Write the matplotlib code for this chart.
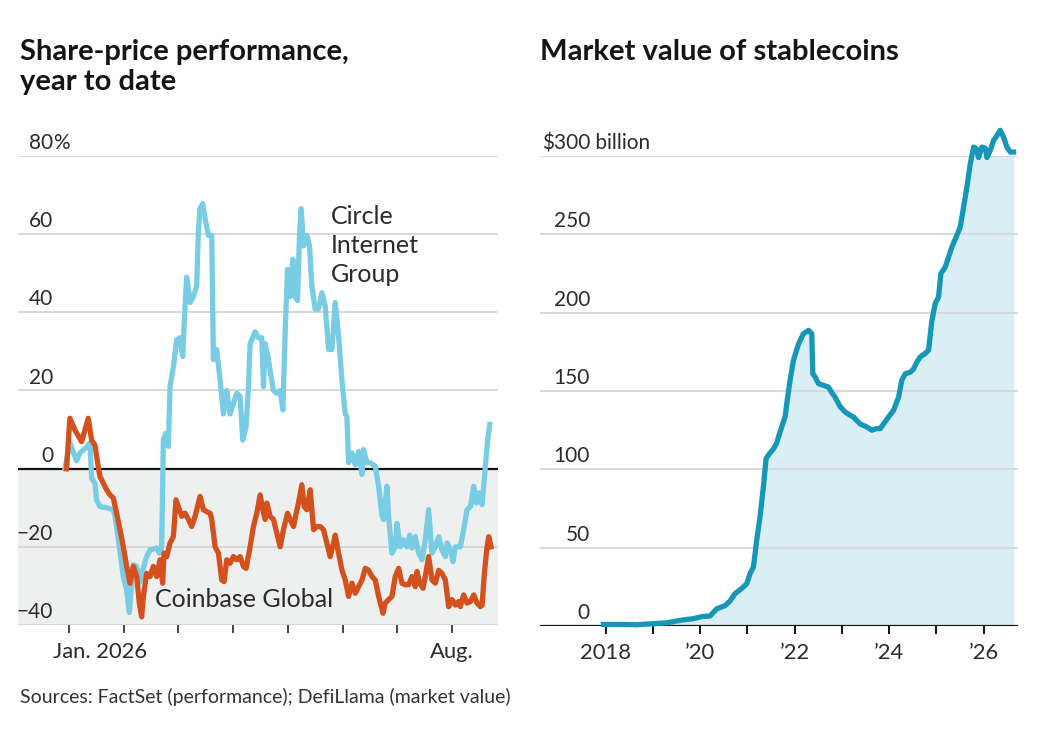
import matplotlib
matplotlib.use("Agg")
import matplotlib.pyplot as plt
import matplotlib.transforms as mtransforms

plt.rcParams["font.family"] = ["Lato", "DejaVu Sans"]

# ---- data ----
# left panel: months since Jan. 1, 2026 ; % change year to date
circle_t = [-0.073, 0.018, 0.140, 0.201, 0.335, 0.384, 0.415, 0.476, 0.506, 0.567,
            0.689, 0.811, 0.841, 0.902, 0.994, 1.055, 1.104, 1.146, 1.177, 1.238,
            1.299, 1.360, 1.421, 1.482, 1.604, 1.652, 1.695, 1.726, 1.768, 1.817,
            1.848, 1.909, 1.970, 2.030, 2.079, 2.122, 2.152, 2.213, 2.274, 2.335,
            2.366, 2.396, 2.445, 2.488, 2.549, 2.610, 2.640, 2.701, 2.762, 2.823,
            2.884, 2.945, 3.006, 3.067, 3.128, 3.177, 3.238, 3.280, 3.311, 3.402,
            3.463, 3.524, 3.555, 3.585, 3.646, 3.677, 3.738, 3.799, 3.860, 3.909,
            3.951, 3.994, 4.043, 4.091, 4.134, 4.177, 4.213, 4.244, 4.287, 4.348,
            4.396, 4.439, 4.500, 4.561, 4.622, 4.683, 4.744, 4.805, 4.866, 4.927,
            4.988, 5.049, 5.079, 5.110, 5.171, 5.232, 5.293, 5.354, 5.384, 5.445,
            5.506, 5.598, 5.659, 5.720, 5.750, 5.811, 5.841, 5.902, 5.963, 5.994,
            6.055, 6.116, 6.177, 6.226, 6.268, 6.329, 6.390, 6.451, 6.512, 6.573,
            6.634, 6.695, 6.756, 6.817, 6.878, 6.909, 6.970, 7.018, 7.061, 7.152,
            7.213, 7.274, 7.335, 7.396, 7.445, 7.488, 7.549, 7.610, 7.652, 7.689]
circle_pct = [0, 6.6, 2, 4, 5.7, 6.6, -2.4, -3.7, -8, -9.7,
              -10, -10.5, -12, -18, -27.6, -31, -36.8, -29, -24.6, -25,
              -29, -25.5, -22.5, -20.8, -20.3, -21.6, -20, 7.4, 9, 5.7,
              21, 26, 33, 33.5, 28.7, 41.6, 49, 42.5, 44, 46.8,
              61, 66.5, 67.8, 64, 59.7, 59.7, 27.9, 30.5, 22.7, 14,
              20, 14, 16.7, 19.3, 18.5, 7.3, 10.7, 21, 32, 35,
              33.5, 33.5, 21, 32, 28, 25, 20, 19.3, 20, 15,
              34.8, 51, 44, 53.6, 44, 43, 59.7, 66.5, 57, 59.7,
              57, 46.8, 40.8, 40.8, 45, 41.6, 30.5, 30.5, 42.5, 33.9,
              22.7, 14, 13.3, 1.5, 4, 1, 4.4, -1.5, 4.9, 1.5,
              1.5, 0.6, -4.5, -12, -13, -4.5, -12.2, -21.6, -20, -14,
              -20, -18.2, -20, -17, -20.3, -17.4, -21.6, -23.3, -18.2, -10.5,
              -21.6, -20, -17.4, -20.8, -22.5, -19, -20.8, -23.8, -20, -20,
              -15.6, -10.5, -9.7, -4.5, -8.8, -6.2, -9.2, 0.6, 7.4, 11.3]

coinbase_t = [-0.043, 0.018, 0.110, 0.232, 0.293, 0.354, 0.415, 0.476, 0.537, 0.567,
              0.628, 0.689, 0.750, 0.811, 0.872, 0.933, 0.994, 1.055, 1.116, 1.177,
              1.238, 1.287, 1.329, 1.360, 1.421, 1.482, 1.543, 1.604, 1.665, 1.713,
              1.738, 1.787, 1.848, 1.909, 1.957, 2.000, 2.061, 2.122, 2.183, 2.244,
              2.305, 2.335, 2.396, 2.457, 2.518, 2.579, 2.610, 2.671, 2.732, 2.793,
              2.835, 2.884, 2.945, 3.006, 3.067, 3.128, 3.189, 3.238, 3.311, 3.372,
              3.433, 3.494, 3.543, 3.585, 3.616, 3.677, 3.738, 3.799, 3.860, 3.921,
              3.994, 4.043, 4.104, 4.152, 4.195, 4.256, 4.299, 4.348, 4.409, 4.470,
              4.530, 4.591, 4.652, 4.713, 4.774, 4.835, 4.866, 4.927, 4.988, 5.049,
              5.110, 5.171, 5.232, 5.293, 5.354, 5.415, 5.476, 5.537, 5.598, 5.659,
              5.738, 5.780, 5.841, 5.902, 5.963, 6.024, 6.085, 6.146, 6.207, 6.268,
              6.329, 6.360, 6.409, 6.470, 6.512, 6.573, 6.634, 6.695, 6.756, 6.817,
              6.878, 6.939, 7.000, 7.061, 7.122, 7.152, 7.213, 7.274, 7.335, 7.396,
              7.457, 7.518, 7.549, 7.591, 7.640, 7.671, 7.713]
coinbase_pct = [0, 12.9, 9.9, 6.9, 9.9, 12.9, 7.3, 6, 0.4, -2,
                -3.7, -5.4, -6.7, -7.5, -11.4, -15.6, -20, -25, -29.3, -25,
                -27.6, -34.4, -37.9, -32.7, -26.8, -27.6, -25, -27.6, -23.3, -29.3,
                -21.6, -22.5, -19, -17.4, -8, -9.7, -12.2, -11.4, -13, -14.8,
                -12.2, -10.5, -7.1, -10.5, -11, -11.4, -13, -20, -21.6, -28.5,
                -28.9, -23.3, -24.2, -22.5, -23.3, -22.5, -25, -25.5, -20, -14.8,
                -11.4, -6.7, -10.5, -13, -8.8, -12.2, -13, -16.5, -20, -15.6,
                -11.4, -13, -14.8, -11.4, -8.8, -4.1, -9.7, -10.5, -5.4, -15.6,
                -14.8, -14.8, -15.6, -19, -22.5, -19, -17, -21.6, -25.9, -28.5,
                -32.7, -29.3, -31.9, -30.2, -28.5, -25.5, -26, -27.6, -28.5, -32.7,
                -37, -34.4, -33.5, -32.7, -27.6, -25.5, -29.3, -29.7, -29.7, -27.6,
                -30.2, -26.3, -29.3, -30.6, -27.6, -22.5, -28.5, -29.3, -26, -26.8,
                -28.5, -35.3, -33.5, -34.9, -34, -35.3, -32.3, -34.4, -34, -32.3,
                -34.4, -35.3, -34.9, -26.8, -20, -17.4, -20]

# right panel: year ; stablecoin market value, $ billion
stable_year = [2017.951, 2018.304, 2018.657, 2019.010, 2019.292, 2019.575, 2019.857,
               2020.034, 2020.210, 2020.352, 2020.528, 2020.634, 2020.740, 2020.881,
               2020.987, 2021.058, 2021.129, 2021.199, 2021.270, 2021.340, 2021.397,
               2021.468, 2021.552, 2021.623, 2021.694, 2021.799, 2021.835, 2021.905,
               2021.976, 2022.082, 2022.188, 2022.294, 2022.364, 2022.386, 2022.435,
               2022.506, 2022.612, 2022.718, 2022.788, 2022.859, 2022.965, 2023.071,
               2023.177, 2023.247, 2023.388, 2023.530, 2023.636, 2023.742, 2023.812,
               2023.883, 2023.989, 2024.095, 2024.201, 2024.271, 2024.342, 2024.448,
               2024.518, 2024.589, 2024.660, 2024.766, 2024.836, 2024.907, 2024.977,
               2025.048, 2025.097, 2025.189, 2025.260, 2025.331, 2025.436, 2025.507,
               2025.578, 2025.648, 2025.719, 2025.790, 2025.846, 2025.895, 2025.966,
               2026.037, 2026.072, 2026.143, 2026.213, 2026.284, 2026.355, 2026.425,
               2026.496, 2026.567, 2026.637]
stable_bn = [1, 1, 0.8, 1.5, 2, 3.6, 4.7,
             6, 6.4, 11, 13, 16, 20.7, 24,
             27, 33.5, 37.7, 55, 70, 89, 107,
             110, 113, 117, 124, 133.6, 142, 157,
             169.6, 180, 186.6, 188.7, 186.6, 161, 159,
             154.7, 153.6, 152.5, 149, 146, 140, 136.6,
             134.5, 133.4, 129, 127, 125, 126, 126,
             129, 133.4, 137.7, 146, 157, 161, 162,
             164, 168.5, 171.7, 174, 176, 195, 205.7,
             210, 225, 229, 235.5, 242, 249.4, 254.7,
             267.4, 280, 295, 305.7, 304.7, 299, 305.7,
             305, 299, 303.6, 310, 313, 316.4, 312,
             305.7, 302.5, 302.5]

left_yticks = [-40, -20, 0, 20, 40, 60, 80]
left_ytick_labels = ["\u221240", "\u221220", "0", "20", "40", "60", "80"]
left_month_ticks = [0, 1, 2, 3, 4, 5, 6, 7]
left_month_labels = ["Jan. 2026", "", "", "", "", "", "", "Aug."]

right_yticks = [0, 50, 100, 150, 200, 250, 300]
right_ytick_labels = ["0", "50", "100", "150", "200", "250", "300"]
right_year_ticks = [2018, 2019, 2020, 2021, 2022, 2023, 2024, 2025, 2026]
right_year_labels = ["2018", "", "\u201920", "", "\u201922", "", "\u201924", "", "\u201926"]

# ---- styling ----
W, H = 1041, 729
CIRCLE = "#78cde4"
COINBASE = "#d4501c"
STABLE = "#1797b8"
STABLE_FILL = "#d9eef5"
NEG_BG = "#eeefef"
GRID = "#d6d6d6"
TXT = "#2b2b2b"
TICK_FS = 15
XTICK_FS = 15.8
LW = 3.8

fig = plt.figure(figsize=(W / 100, H / 100), dpi=100)
fig.patch.set_facecolor("white")


def px_axes(x0, x1, y_top, y_bot):
    return fig.add_axes([x0 / W, 1 - y_bot / H, (x1 - x0) / W, (y_bot - y_top) / H])


ax1 = px_axes(18, 498, 156, 625)
ax2 = px_axes(540, 1018, 156, 626)

for ax in (ax1, ax2):
    for s in ax.spines.values():
        s.set_visible(False)
    ax.set_facecolor("none")
    ax.tick_params(axis="y", left=False, labelleft=False)
    ax.tick_params(axis="x", direction="out", length=6, width=1.4, color="#444444",
                   labelsize=XTICK_FS, labelcolor=TXT, pad=6)

# ---- left panel ----
ax1.set_xlim(-0.93, 7.84)
ax1.set_ylim(-40, 80)
ax1.axhspan(-40, 0, color=NEG_BG, zorder=0)
for v in left_yticks:
    if v == 0:
        continue
    ax1.axhline(v, color=GRID, lw=1.3, zorder=1)
ax1.axhline(0, color="#111111", lw=1.6, zorder=2)

ax1.plot(circle_t, circle_pct, color=CIRCLE, lw=LW, solid_joinstyle="round", zorder=3)
ax1.plot(coinbase_t, coinbase_pct, color=COINBASE, lw=LW, solid_joinstyle="round", zorder=4)

lab_tr = mtransforms.blended_transform_factory(ax1.transAxes, ax1.transData)
x_num = (53 - 18) / 480
for v, lab in zip(left_yticks, left_ytick_labels):
    ax1.annotate(lab, (x_num, v), xycoords=lab_tr, xytext=(0, 5),
                 textcoords="offset points", ha="right", va="baseline",
                 fontsize=TICK_FS, color=TXT, zorder=5)
ax1.annotate("%", (x_num, 80), xycoords=lab_tr, xytext=(0, 5),
             textcoords="offset points", ha="left", va="baseline",
             fontsize=TICK_FS, color=TXT)

ax1.set_xticks(left_month_ticks)
ax1.set_xticklabels(left_month_labels)
first = ax1.get_xticklabels()[0]
first.set_horizontalalignment("left")
first.set_transform(first.get_transform() +
                    mtransforms.ScaledTranslation(-0.16, 0, fig.dpi_scale_trans))

ax1.text(4.79, 57.2, "Circle\nInternet\nGroup", fontsize=18, color=TXT,
         ha="left", va="center", linespacing=1.32, zorder=5)
ax1.text(1.57, -33.6, "Coinbase Global", fontsize=18, color=TXT,
         ha="left", va="center", zorder=5)

# ---- right panel ----
ax2.set_xlim(2016.61, 2026.73)
ax2.set_ylim(0, 300)
for v in right_yticks[1:]:
    ax2.axhline(v, color=GRID, lw=1.3, zorder=1)
ax2.fill_between(stable_year, stable_bn, 0, color=STABLE_FILL, lw=0, zorder=0.5)
ax2.axhline(0, color="#111111", lw=1.6, zorder=2)
ax2.plot(stable_year, stable_bn, color=STABLE, lw=LW, solid_joinstyle="round",
         clip_on=False, zorder=3)

lab_tr2 = mtransforms.blended_transform_factory(ax2.transAxes, ax2.transData)
x_num2 = (590 - 540) / 478
for v, lab in zip(right_yticks, right_ytick_labels):
    txt = "\\$300" if v == 300 else lab
    ax2.annotate(txt, (x_num2, v), xycoords=lab_tr2, xytext=(0, 5),
                 textcoords="offset points", ha="right", va="baseline",
                 fontsize=TICK_FS, color=TXT)
ax2.annotate(" billion", (x_num2, 300), xycoords=lab_tr2, xytext=(0, 5),
             textcoords="offset points", ha="left", va="baseline",
             fontsize=TICK_FS, color=TXT)

ax2.set_xticks(right_year_ticks)
ax2.set_xticklabels(right_year_labels)
ax2.tick_params(axis="x", color="#111111")

# ---- titles and source ----
fig.text(20 / W, 1 - 39 / H, "Share-price performance,\nyear to date", fontsize=21,
         fontweight="bold", color="#151515", ha="left", va="top", linespacing=1.18)
fig.text(540 / W, 1 - 39 / H, "Market value of stablecoins", fontsize=21,
         fontweight="bold", color="#151515", ha="left", va="top")
fig.text(20 / W, 1 - 697 / H, "Sources: FactSet (performance); DefiLlama (market value)",
         fontsize=14, color="#333333", ha="left", va="center")

fig.savefig("out.png", dpi=100)
